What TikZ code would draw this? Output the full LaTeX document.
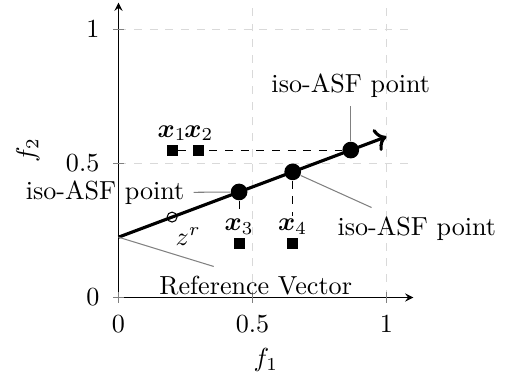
\documentclass[tikz,border=0pt]{standalone}
\usepackage{amsmath,amssymb}
\usepackage{xcolor}
\usepackage{tikz}
\usetikzlibrary{arrows.meta,positioning}
\tikzset{asfpt/.style={circle,fill=black,inner sep=0pt,minimum size=6.4pt},
solpt/.style={rectangle,fill=black,inner sep=0pt,minimum size=4.2pt},
sollabel/.style={inner sep=1pt},
pinline/.style={gray,thin},
gridline/.style={dashed,gray!30}}

\begin{document}
\begin{tikzpicture}[x=3.61cm,y=3.61cm]
    \useasboundingbox (-0.442,-0.312) rectangle (1.457,1.110);

    % Grid
    \draw[gridline] (0.5,0) -- (0.5,1.1) (1,0) -- (1,1.1) (0,0.5) -- (1.1,0.5) (0,1) -- (1.1,1);

    % f_1-f_2 Axis
    \draw[-stealth] (0,0) -- (1.1,0);
    \draw[-stealth] (0,0) -- (0,1.1);
    \foreach \t/\n in {0/a,0.5/b,1/c} {
        \draw[gray] (\t,-0.02) -- (\t,0.02);
        \draw[gray] (-0.02,\t) -- (0.02,\t);
        \node[anchor=north] (xt\n) at (\t,-0.033) {$\t$};
        \node[anchor=east] (yt\n) at (-0.037,\t) {$\t$};
    }
    \node (f1) at (0.55,-0.233) {$f_1$};
    \node[rotate=90] (f2) at (-0.338,0.55) {$f_2$};

    % Reference Vector
    \coordinate (rv0) at (0,0.225);
    \coordinate (rv1) at (1,0.6);
    \node[circle,draw,inner sep=0pt,minimum size=3.8pt] (zr) at (0.2,0.3) {};
    \node (zrl) at (0.26,0.227) {$z^r$};
    \draw[very thick,->] (rv0) -- (rv1);

    % iso-ASF points
    \node[asfpt] (p1) at (0.45,0.39375) {};
    \node[asfpt] (p2) at (0.65,0.46875) {};
    \node[asfpt] (p3) at (0.8667,0.55) {};

    % Solutions
    \node[solpt] (s1) at (0.2,0.55) {};
    \node[solpt] (s2) at (0.3,0.55) {};
    \node[solpt] (s3) at (0.45,0.2) {};
    \node[solpt] (s4) at (0.65,0.2) {};
    \node[sollabel, above=0pt of s1] (t1) {$\boldsymbol{x}_1$};
    \node[sollabel, above=0pt of s2] (t2) {$\boldsymbol{x}_2$};
    \node[sollabel, above=0pt of s3] (t3) {$\boldsymbol{x}_3$};
    \node[sollabel, above=0pt of s4] (t4) {$\boldsymbol{x}_4$};

    % Dashed Lines
    \draw[dashed] (s1) -- (p3);
    \draw[dashed] (p1) -- (t3);
    \draw[dashed] (p2) -- (t4);

    % Pins
    \node (l1) at (-0.05,0.39) {iso-ASF point};
    \node (l2) at (1.113,0.257) {iso-ASF point};
    \node (l3) at (0.8667,0.792) {iso-ASF point};
    \node (lrv) at (0.512,0.046) {Reference Vector};
    \draw[pinline] (p1) -- (l1);
    \draw[pinline] (p2) -- (l2.155);
    \draw[pinline] (p3) -- (l3);
    \draw[pinline] (rv0) -- (lrv.156);
\end{tikzpicture}
\end{document}
